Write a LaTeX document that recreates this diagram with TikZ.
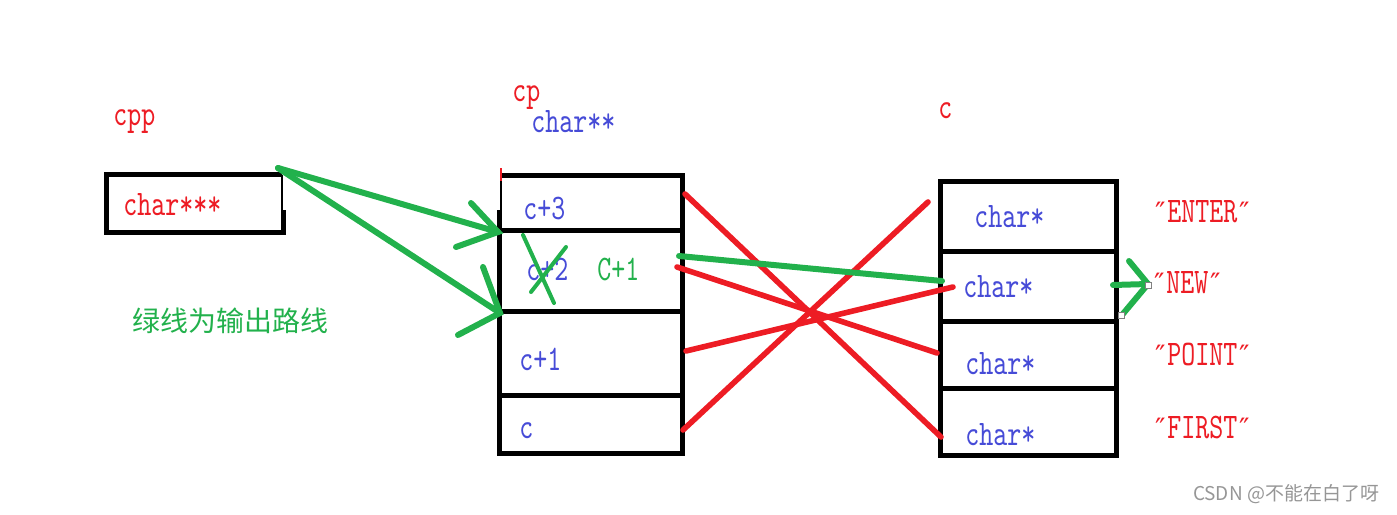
\documentclass[tikz,border=0pt]{standalone}
\usepackage{fontspec}
\newfontfamily\labfont{lmmono10-regular}[Extension=.otf,FakeStretch=0.74]
\newfontfamily\cjkfont{Noto Sans CJK SC}
\newfontfamily\qtfont{DejaVu Sans}
\definecolor{pred}{RGB}{237,28,36}
\definecolor{pgreen}{RGB}{34,177,76}
\definecolor{pblue}{RGB}{70,75,215}
\definecolor{pgray}{RGB}{150,150,150}
\newcommand\qq{\makebox[7pt]{\qtfont\fontsize{14}{14}\selectfont ″}}
\tikzset{
  lab/.style={font={\labfont\fontsize{18}{18}\selectfont}, inner sep=0pt, anchor=base west},
  redtxt/.style={lab, text=pred},
  bluetxt/.style={lab, text=pblue},
  greentxt/.style={lab, text=pgreen},
  boxline/.style={draw=black, line width=2.5pt},
  thinline/.style={draw=black, line width=1pt},
  redline/.style={draw=pred, line width=2.8pt, line cap=round},
  greenline/.style={draw=pgreen, line width=3pt, line cap=round},
  handle/.style={draw=gray, fill=white, line width=0.4pt, minimum size=3pt, inner sep=0pt}
}
\begin{document}
\begin{tikzpicture}[x=0.5pt,y=-0.5pt]
\useasboundingbox (0,0) rectangle (1397,514);

% ---------- cpp box ----------
\draw[boxline] (283,210) -- (283,232) -- (106.5,232) -- (106.5,174.5) -- (282,174.5);
\draw[thinline] (282,174.5) -- (282,210);
\node[redtxt] (cpp) at (113,125) {cpp};
\node[redtxt] (c3star) at (123,215) {char***};
\coordinate (cppout) at (278,168);

% ---------- cp box ----------
\draw[boxline] (499.5,210) -- (499.5,453) -- (682,453) -- (682,175.5) -- (500.5,175.5);
\draw[thinline] (500.5,175.5) -- (500.5,210);
\draw[boxline] (499.5,230.5) -- (682,230.5);
\draw[boxline] (499.5,311) -- (682,311);
\draw[boxline] (499.5,395.5) -- (682,395.5);
\draw[draw=pred, line width=1pt] (500.5,168) -- (500.5,181);
\node[redtxt] (cp) at (512,101) {cp};
\node[bluetxt] (cptype) at (531,132) {char**};
\node[bluetxt] (cthree) at (523,219) {c+3};
\node[bluetxt] (ctwo) at (526,280) {c+2};
\node[greentxt] (Cone) at (597,280) {C+1};
\node[bluetxt] (cone) at (519,370) {c+1};
\node[bluetxt] (czero) at (519,438) {c};

% ---------- c box ----------
\draw[boxline] (940.5,181.5) rectangle (1116.5,455);
\draw[boxline] (940.5,251.5) -- (1116.5,251.5);
\draw[boxline] (940.5,321.5) -- (1119,321.5);
\draw[boxline] (940.5,388.5) -- (1116.5,388.5);
\node[redtxt] (c) at (938,118) {c};
\node[bluetxt] (s1) at (974,227) {char*};
\node[bluetxt] (s2) at (963,297) {char*};
\node[bluetxt] (s3) at (965,374) {char*};
\node[bluetxt] (s4) at (965,445) {char*};

% ---------- strings ----------
\node[redtxt] (enter) at (1153,222) {\qq ENTER\qq};
\node[redtxt] (new) at (1152,293) {\qq NEW\qq};
\node[redtxt] (point) at (1153,365) {\qq POINT\qq};
\node[redtxt] (first) at (1153,438) {\qq FIRST\qq};

% ---------- legend ----------
\node[font={\cjkfont\fontsize{14}{14}\selectfont}, text=pgreen, inner sep=0pt] (legend) at (230,321) {绿线为输出路线};
\node[font={\cjkfont\fontsize{9.5}{9.5}\selectfont}, text=pgray, inner sep=0pt] (mark) at (1286,494) {CSDN @不能在白了呀};

% ---------- connector end points ----------
\coordinate (a1) at (498,232);
\coordinate (a2) at (500,313);
\coordinate (g1s) at (679,256);
\coordinate (g1e) at (942,281);
\coordinate (g2s) at (1113,285);
\coordinate (g2e) at (1148,284);
\coordinate (r1s) at (685,194);
\coordinate (r1e) at (941,437);
\coordinate (r2s) at (683,430);
\coordinate (r2e) at (928,202);
\coordinate (r3s) at (677,267);
\coordinate (r3e) at (937,353);
\coordinate (r4s) at (686,351);
\coordinate (r4e) at (953,287);

% ---------- red lines ----------
\draw[redline] (r1s) -- (r1e);
\draw[redline] (r2s) -- (r2e);
\draw[redline] (r3s) -- (r3e);
\draw[redline] (r4s) -- (r4e);

% ---------- green lines ----------
\draw[greenline] (cppout) -- (a1);
\draw[greenline] (471,203) -- (a1) -- (456,247);
\draw[greenline] (cppout) -- (a2);
\draw[greenline] (483,267) -- (a2) -- (458,335);
\draw[greenline] (g1s) -- (g1e);
\draw[greenline] (g2s) -- (g2e);
\draw[greenline] (1129,261) -- (g2e) -- (1122,315);
\draw[draw=pgreen, line width=2pt, line cap=round] (523,235) -- (554,303);
\draw[draw=pgreen, line width=2pt, line cap=round] (566,247) -- (531,292);
\node[handle] (h1) at (1148,285) {};
\node[handle] (h2) at (1121,315) {};
\end{tikzpicture}
\end{document}
